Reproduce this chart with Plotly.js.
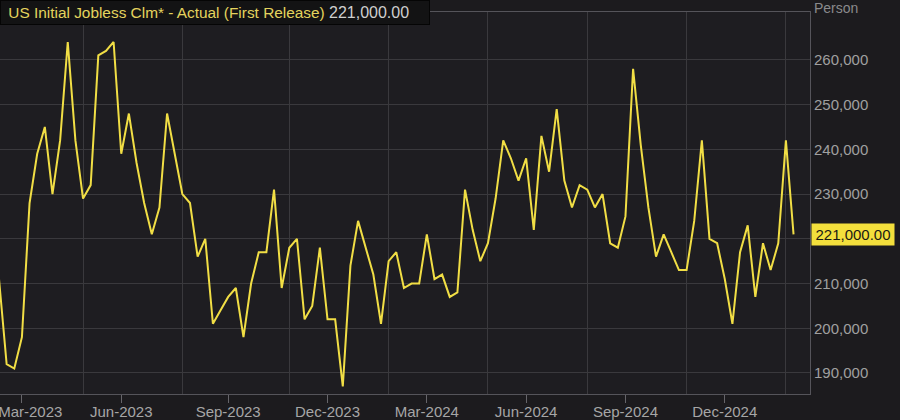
<!DOCTYPE html>
<html>
<head>
<meta charset="utf-8">
<script src="https://cdn.plot.ly/plotly-3.0.1.min.js"></script>
<style>
  html, body { margin: 0; padding: 0; background: #1c1b1e; }
  #chart { width: 900px; height: 420px; }
</style>
</head>
<body>
<div id="chart"></div>
<script>
// Week-ending dates (first release of US initial jobless claims)
const weekEnding = [
  '2023-03-04','2023-03-11','2023-03-18','2023-03-25',
  '2023-04-01','2023-04-08','2023-04-15','2023-04-22','2023-04-29',
  '2023-05-06','2023-05-13','2023-05-20','2023-05-27',
  '2023-06-03','2023-06-10','2023-06-17','2023-06-24',
  '2023-07-01','2023-07-08','2023-07-15','2023-07-22','2023-07-29',
  '2023-08-05','2023-08-12','2023-08-19','2023-08-26',
  '2023-09-02','2023-09-09','2023-09-16','2023-09-23','2023-09-30',
  '2023-10-07','2023-10-14','2023-10-21','2023-10-28',
  '2023-11-04','2023-11-11','2023-11-18','2023-11-25',
  '2023-12-02','2023-12-09','2023-12-16','2023-12-23','2023-12-30',
  '2024-01-06','2024-01-13','2024-01-20','2024-01-27',
  '2024-02-03','2024-02-10','2024-02-17','2024-02-24',
  '2024-03-02','2024-03-09','2024-03-16','2024-03-23','2024-03-30',
  '2024-04-06','2024-04-13','2024-04-20','2024-04-27',
  '2024-05-04','2024-05-11','2024-05-18','2024-05-25',
  '2024-06-01','2024-06-08','2024-06-15','2024-06-22','2024-06-29',
  '2024-07-06','2024-07-13','2024-07-20','2024-07-27',
  '2024-08-03','2024-08-10','2024-08-17','2024-08-24','2024-08-31',
  '2024-09-07','2024-09-14','2024-09-21','2024-09-28',
  '2024-10-05','2024-10-12','2024-10-19','2024-10-26',
  '2024-11-02','2024-11-09','2024-11-16','2024-11-23','2024-11-30',
  '2024-12-07','2024-12-14','2024-12-21','2024-12-28',
  '2025-01-04','2025-01-11','2025-01-18','2025-01-25',
  '2025-02-01','2025-02-08','2025-02-15','2025-02-22',
  '2025-03-01'
];
const claims = [
  211000,192000,191000,198000,
  228000,239000,245000,230000,242000,
  264000,242000,229000,232000,
  261000,262000,264000,239000,
  248000,237000,228000,221000,227000,
  248000,239000,230000,228000,
  216000,220000,201000,204000,207000,
  209000,198000,210000,217000,
  217000,231000,209000,218000,
  220000,202000,205000,218000,202000,
  202000,187000,214000,224000,
  218000,212000,201000,215000,
  217000,209000,210000,210000,221000,
  211000,212000,207000,208000,
  231000,222000,215000,219000,
  229000,242000,238000,233000,238000,
  222000,243000,235000,249000,
  233000,227000,232000,231000,227000,
  230000,219000,218000,225000,
  258000,241000,227000,216000,
  221000,217000,213000,213000,224000,
  242000,220000,219000,211000,
  201000,217000,223000,207000,
  219000,213000,219000,242000,
  221000
];
// X tick labels (placed at last weekly observation of each quarter-end month)
const xTickVals = ['2023-03-25','2023-06-24','2023-09-30','2023-12-30','2024-03-30','2024-06-29','2024-09-28','2024-12-28'];
const xTickText = ['\u00a0\u00a0\u00a0\u00a0Mar-2023','Jun-2023','Sep-2023','Dec-2023','Mar-2024','Jun-2024','Sep-2024','Dec-2024'];
// Vertical grid positions
const xGridVals = ['2023-05-20','2023-08-19','2023-11-25','2024-02-24','2024-05-25','2024-08-24','2024-11-23','2025-02-22'];
// Y ticks (220,000 is hidden behind the last-value marker in the reference)
const yTickVals = [190000,200000,210000,220000,230000,240000,250000,260000];
const yTickText = ['190,000','200,000','210,000','','230,000','240,000','250,000','260,000'];
const seriesName = 'US Initial Jobless Clm* - Actual (First Release)';
const unitLabel = 'Person';

const lastVal = claims[claims.length - 1];
const lastTxt = lastVal.toLocaleString('en-US', {minimumFractionDigits: 2, maximumFractionDigits: 2});

const FONT = '"Liberation Sans", Arial, sans-serif';
const gridCol = '#3a393d';

const trace = {
  x: weekEnding, y: claims, type: 'scatter', mode: 'lines',
  line: {color: '#f1de45', width: 2}, hoverinfo: 'skip', showlegend: false
};

const layout = {
  width: 900, height: 420,
  margin: {l: 0, r: 90, t: 12, b: 26, pad: 0},
  paper_bgcolor: '#1c1b1e',
  plot_bgcolor: '#1e1d21',
  font: {family: FONT, color: '#a3a3a3', size: 15},
  xaxis: {
    type: 'date',
    range: ['2023-03-04 22:00', '2025-03-16 02:00'],
    tickmode: 'array', tickvals: xTickVals, ticktext: xTickText,
    ticks: 'outside', ticklen: 8, tickwidth: 1, tickcolor: '#66656a',
    ticklabelstandoff: -4, ticklabeloverflow: 'allow',
    showgrid: false, zeroline: false,
    showline: true, linecolor: '#55545a', linewidth: 1, mirror: true,
    tickfont: {family: FONT, size: 15, color: '#a6a6a6'},
    minor: {tickmode: 'array', tickvals: xGridVals, showgrid: true, gridcolor: gridCol, gridwidth: 1, ticks: ''},
    fixedrange: true
  },
  yaxis: {
    side: 'right',
    range: [185300, 270700],
    tickmode: 'array', tickvals: yTickVals, ticktext: yTickText,
    ticks: '', showgrid: true, gridcolor: gridCol, gridwidth: 1, zeroline: false,
    showline: true, linecolor: '#55545a', linewidth: 1,
    tickfont: {family: FONT, size: 15, color: '#a0a0a0'},
    ticklabelstandoff: 0,
    fixedrange: true
  },
  annotations: [
    {
      xref: 'paper', yref: 'paper', x: 0, y: 1, xanchor: 'left', yanchor: 'bottom',
      yshift: -13, width: 422, height: 17, align: 'left', valign: 'middle',
      bgcolor: '#131314', bordercolor: '#050505', borderwidth: 1, borderpad: 3,
      showarrow: false,
      text: '<span style="color:#e4d35e">\u00a0' + seriesName + '</span> <span style="color:#cfcfcf;font-size:16px">' + lastTxt + '</span>',
      font: {family: FONT, size: 15.4, color: '#e4d35e'}
    },
    {
      xref: 'paper', yref: 'paper', x: 1, y: 1, xanchor: 'left', yanchor: 'middle',
      xshift: 2, yshift: 4, showarrow: false, text: unitLabel,
      font: {family: FONT, size: 14, color: '#8a8a8c'}
    },
    {
      xref: 'paper', yref: 'y', x: 1, y: lastVal, xanchor: 'left', yanchor: 'middle',
      xshift: 1, showarrow: false, text: lastTxt,
      bgcolor: '#f3df3c', borderpad: 2, width: 78,
      font: {family: FONT, size: 15, color: '#1b1a14'}
    }
  ]
};

Plotly.newPlot('chart', [trace], layout, {displayModeBar: false, staticPlot: true});
</script>
</body>
</html>
